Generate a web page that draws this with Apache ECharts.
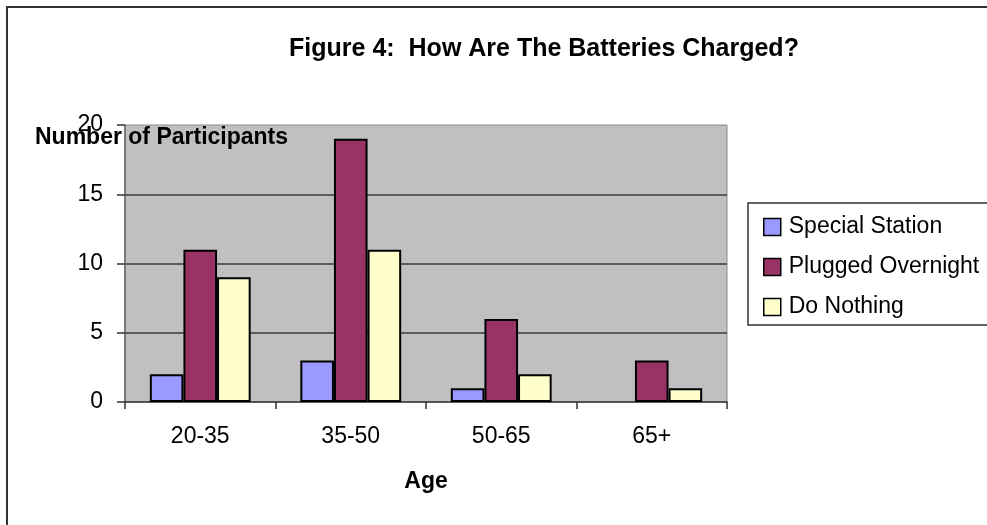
<!DOCTYPE html>
<html>
<head>
<meta charset="utf-8">
<title>How Are The Batteries Charged?</title>
<script src="https://cdn.jsdelivr.net/npm/echarts@6/dist/echarts.min.js"></script>
<style>
  html, body { margin: 0; padding: 0; background: #ffffff; }
  #chart { width: 987px; height: 525px; }
</style>
</head>
<body>
<div id="chart"></div>
<script>
// Age groups on the x axis
const ageGroups = ['20-35', '35-50', '50-65', '65+'];

// Number of participants per charging method
const specialStation   = [2, 3, 1, 0];
const pluggedOvernight = [11, 19, 6, 3];
const doNothing        = [9, 11, 2, 1];

const seriesNames = ['Special Station', 'Plugged Overnight', 'Do Nothing'];
const seriesColors = ['#9999FF', '#993366', '#FFFFCC'];

const FONT = '"Liberation Sans", Arial, sans-serif';

const chart = echarts.init(document.getElementById('chart'), null, { renderer: 'canvas' });

function barSeries(name, data, color) {
  return {
    name: name,
    type: 'bar',
    // empty bars get no outline so nothing is drawn on the axis
    data: data.map(v => (v === 0 ? { value: v, itemStyle: { borderWidth: 0 } } : v)),
    barGap: '0%',
    barCategoryGap: '33%',
    itemStyle: { color: color, borderColor: '#000000', borderWidth: 2 },
    emphasis: { disabled: true }
  };
}

chart.setOption({
  animation: false,
  backgroundColor: '#ffffff',
  textStyle: { fontFamily: FONT },
  title: [
    {
      text: 'Figure 4:  How Are The Batteries Charged?',
      left: 539,
      textAlign: 'center',
      top: 32,
      textStyle: { fontFamily: FONT, fontSize: 25, fontWeight: 'bold', color: '#000000' }
    },
    {
      // value-axis caption, drawn over the top of the plot like the original layout
      text: 'Number of Participants',
      left: 30,
      top: 121,
      z: 10,
      textStyle: { fontFamily: FONT, fontSize: 23, fontWeight: 'bold', color: '#000000' }
    }
  ],
  graphic: [
    // outer chart frame (right and bottom edges run off the canvas)
    {
      type: 'rect', z: 0, silent: true,
      shape: { x: 7, y: 7, width: 1100, height: 600 },
      style: { fill: null, stroke: '#333333', lineWidth: 2 }
    },
    // legend frame
    {
      type: 'rect', z: 1, silent: true,
      shape: { x: 748, y: 203, width: 300, height: 122 },
      style: { fill: '#ffffff', stroke: '#333333', lineWidth: 1.5 }
    }
  ],
  legend: {
    data: seriesNames,
    orient: 'vertical',
    left: 758,
    top: 209,
    z: 5,
    icon: 'rect',
    itemWidth: 17,
    itemHeight: 17,
    itemGap: 14,
    selectedMode: false,
    itemStyle: { borderColor: '#000000', borderWidth: 1.5 },
    textStyle: { fontFamily: FONT, fontSize: 23, color: '#000000', lineHeight: 26, padding: [0, 0, 0, 3] }
  },
  grid: {
    left: 125, right: 260, top: 125, bottom: 123,
    show: true,
    backgroundColor: '#C0C0C0',
    borderColor: '#8a8a8a',
    borderWidth: 1
  },
  xAxis: {
    type: 'category',
    data: ageGroups,
    name: 'Age',
    nameLocation: 'middle',
    nameGap: 80,
    nameTextStyle: { fontFamily: FONT, fontSize: 23, fontWeight: 'bold', color: '#000000', verticalAlign: 'middle' },
    axisLine: { show: true, lineStyle: { color: '#333333', width: 1.5 } },
    axisTick: { show: true, length: 7, lineStyle: { color: '#333333', width: 1.5 } },
    axisLabel: { margin: 23, fontFamily: FONT, fontSize: 23, color: '#000000' },
    splitLine: { show: false }
  },
  yAxis: {
    type: 'value',
    min: 0,
    max: 20,
    interval: 5,
    axisLine: { show: true, lineStyle: { color: '#666666', width: 1.5 } },
    axisTick: { show: true, length: 8, lineStyle: { color: '#333333', width: 1.5 } },
    axisLabel: { margin: 22, fontFamily: FONT, fontSize: 23, color: '#000000' },
    splitLine: { show: true, showMinLine: false, showMaxLine: false, lineStyle: { color: '#3a3a3a', width: 1.5 } }
  },
  series: [
    barSeries(seriesNames[0], specialStation, seriesColors[0]),
    barSeries(seriesNames[1], pluggedOvernight, seriesColors[1]),
    barSeries(seriesNames[2], doNothing, seriesColors[2])
  ]
});
</script>
</body>
</html>
